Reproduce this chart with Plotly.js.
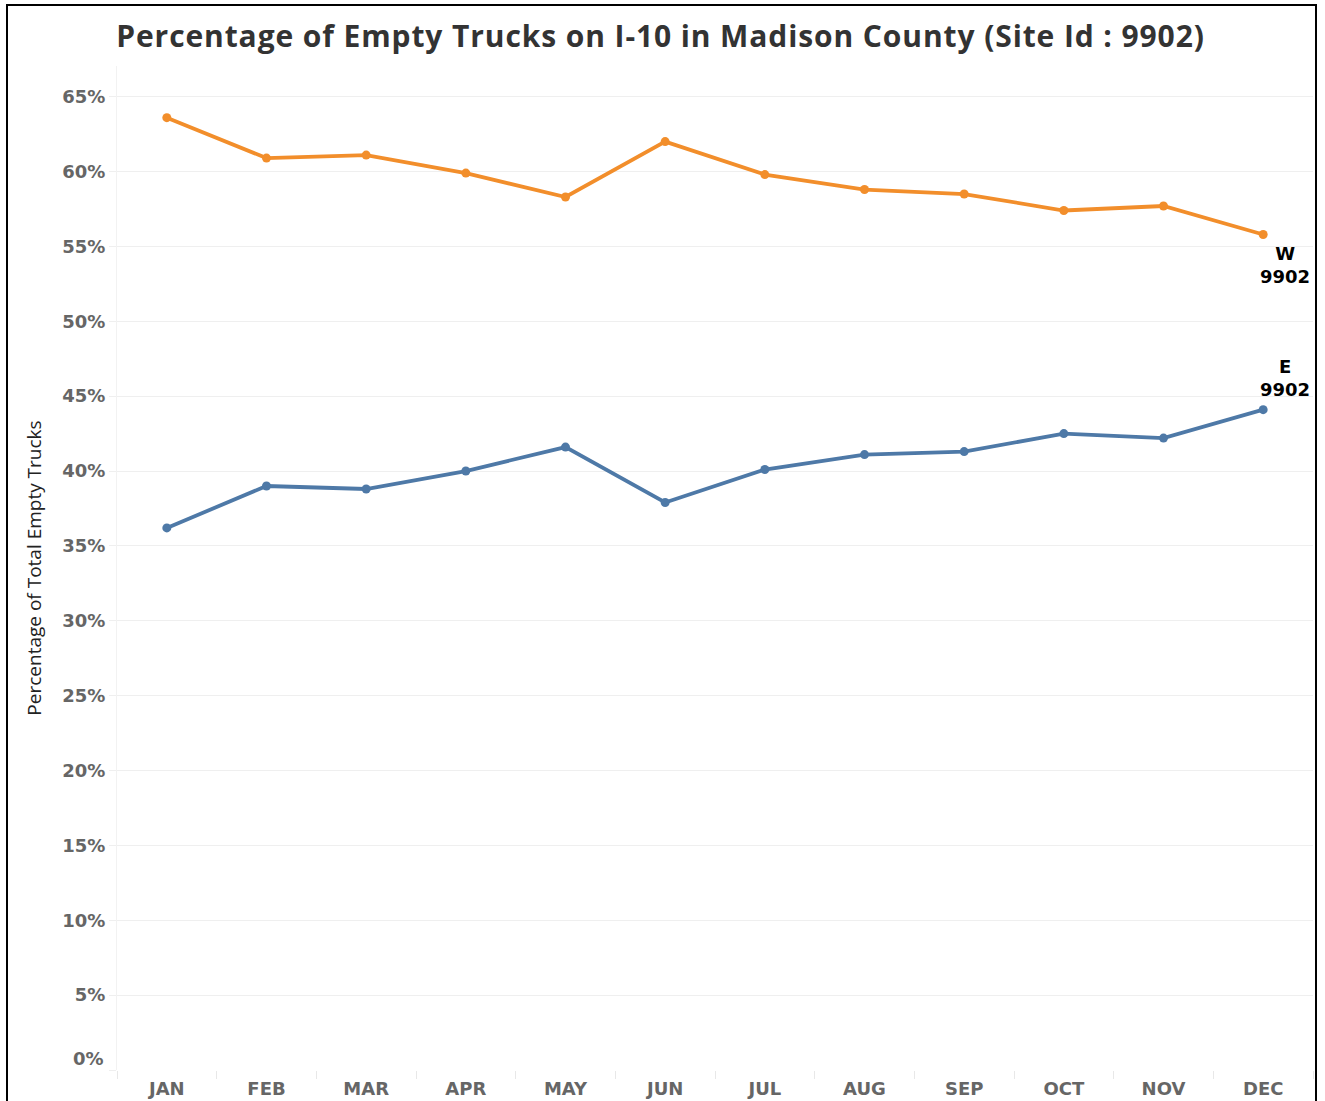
<!DOCTYPE html>
<html>
<head>
<meta charset="utf-8">
<script src="https://cdn.plot.ly/plotly-3.0.1.min.js"></script>
<style>
  html, body { margin: 0; padding: 0; background: #fff; overflow: hidden; }
  #wrap { position: absolute; left: 0; top: 0; width: 1325px; height: 1101px; }
  #chart { position: absolute; left: 0; top: 0; width: 1325px; height: 1101px; }
  #frame { position: absolute; left: 6px; top: 4px; width: 1307px; height: 1120px;
           border: 2.5px solid #000; pointer-events: none; }
  .gtitle { letter-spacing: 0.9px; }
</style>
</head>
<body>
<div id="wrap">
  <div id="chart"></div>
  <div id="frame"></div>
</div>
<script>
const months = ["JAN","FEB","MAR","APR","MAY","JUN","JUL","AUG","SEP","OCT","NOV","DEC"];
const westValues = [63.6, 60.9, 61.1, 59.9, 58.3, 62.0, 59.8, 58.8, 58.5, 57.4, 57.7, 55.8];
const eastValues = [36.2, 39.0, 38.8, 40.0, 41.6, 37.9, 40.1, 41.1, 41.3, 42.5, 42.2, 44.1];
const westLabel = "W<br>9902";
const eastLabel = "E<br>9902";
const yTickVals = [0,5,10,15,20,25,30,35,40,45,50,55,60,65];
const yTickText = yTickVals.map(v => v === 0 ? "" : v + "%");
const zeroLabel = "0%";

const boldWide = "DejaVu Sans, Verdana, sans-serif";
const tickFont = {family: boldWide, size: 18, color: "#666666", weight: 700};

const traces = [
  {x: months, y: westValues, type: "scatter", mode: "lines+markers", name: "W",
   line: {color: "#f28e2b", width: 3.8}, marker: {color: "#f28e2b", size: 9}},
  {x: months, y: eastValues, type: "scatter", mode: "lines+markers", name: "E",
   line: {color: "#4e79a7", width: 3.8}, marker: {color: "#4e79a7", size: 9}}
];

const layout = {
  width: 1325, height: 1101,
  margin: {l: 117, r: 12, t: 66, b: 31, pad: 0},
  paper_bgcolor: "#fff", plot_bgcolor: "#fff",
  showlegend: false,
  title: {text: "Percentage of Empty Trucks on I-10 in Madison County (Site Id : 9902)",
          font: {family: "Open Sans, Lato, sans-serif", size: 30, color: "#333333", weight: 700},
          x: 0.4985, xanchor: "center", y: 0.967, yanchor: "middle"},
  xaxis: {type: "category", range: [-0.5, 11.5], fixedrange: true,
          showgrid: false, zeroline: false, showline: false,
          ticks: "outside", tickson: "boundaries", ticklen: 8, tickcolor: "#e8e8e8", tickwidth: 1,
          ticklabelstandoff: 6,
          tickfont: tickFont},
  yaxis: {range: [0, 67.05], fixedrange: true,
          tickvals: yTickVals, ticktext: yTickText,
          showgrid: true, gridcolor: "#efefef", gridwidth: 1, zeroline: false,
          showline: true, linecolor: "#f2f2f2", linewidth: 1,
          ticks: "outside", ticklen: 7, tickcolor: "#efefef",
          tickfont: tickFont,
          title: {text: "Percentage of Total Empty Trucks", standoff: 15,
                  font: {family: "Open Sans, Noto Sans, sans-serif", size: 19, color: "#222"}}},
  annotations: [
    {x: 0, y: 0, xref: "paper", yref: "y", text: zeroLabel, showarrow: false,
     xanchor: "right", yanchor: "middle", xshift: -11, yshift: 12,
     font: tickFont},
    {x: months[11], y: westValues[11], xref: "x", yref: "y", text: "<b>" + westLabel + "</b>",
     showarrow: false, xshift: 22, yshift: -31, align: "center",
     font: {family: boldWide, size: 18, color: "#000"}},
    {x: months[11], y: eastValues[11], xref: "x", yref: "y", text: "<b>" + eastLabel + "</b>",
     showarrow: false, xshift: 22, yshift: 32, align: "center",
     font: {family: boldWide, size: 18, color: "#000"}}
  ]
};

Plotly.newPlot("chart", traces, layout, {displayModeBar: false, staticPlot: true});
</script>
</body>
</html>
